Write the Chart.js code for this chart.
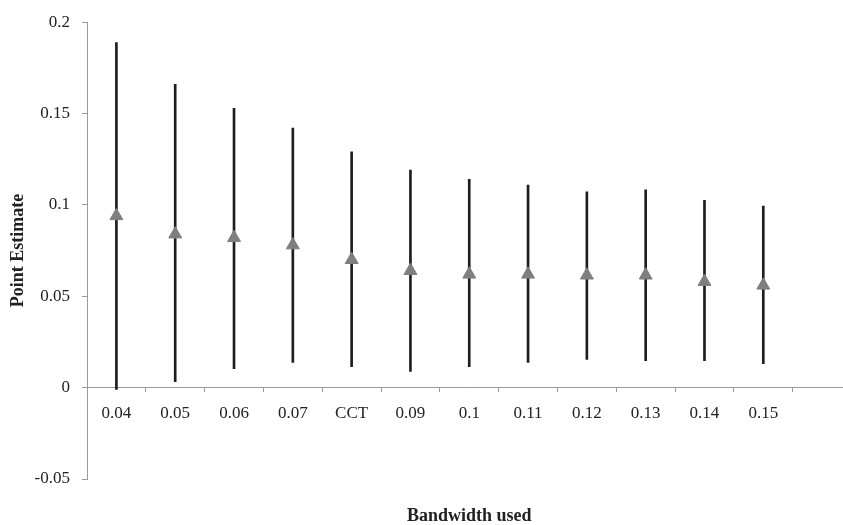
<!DOCTYPE html>
<html>
<head>
<meta charset="utf-8">
<script src="https://cdn.jsdelivr.net/npm/chart.js@4.4.0/dist/chart.umd.min.js"></script>
<style>
  html, body { margin: 0; padding: 0; background: #fff; overflow: hidden; }
  #wrap { width: 860px; height: 525px; position: relative; }
  canvas { display: block; }
</style>
</head>
<body>
<div id="wrap"><canvas id="c" width="860" height="525"></canvas></div>
<script>
// ---- data ----
const categories = ['0.04','0.05','0.06','0.07','CCT','0.09','0.1','0.11','0.12','0.13','0.14','0.15',''];
const pointEstimate = [0.094, 0.084, 0.082, 0.078, 0.070, 0.064, 0.062, 0.062, 0.0615, 0.0615, 0.058, 0.056, null];
const ciLow  = [-0.001, 0.0033, 0.0104, 0.0138, 0.0115, 0.0089, 0.0115, 0.0138, 0.0155, 0.0147, 0.0147, 0.0131, null];
const ciHigh = [0.1889, 0.166, 0.1529, 0.1421, 0.1291, 0.1191, 0.114, 0.1109, 0.1071, 0.1082, 0.1025, 0.0994, null];
const yTicks = [-0.05, 0, 0.05, 0.1, 0.15, 0.2];
const yTickLabels = ['-0.05', '0', '0.05', '0.1', '0.15', '0.2'];
const xTitle = 'Bandwidth used';
const yTitle = 'Point Estimate';

const ciRanges = ciLow.map((lo, i) => (lo === null ? null : [lo, ciHigh[i]]));

const FONT = "'Liberation Serif', 'Times New Roman', serif";
const AXIS = '#9a9a9a';
const TEXT = '#222';

new Chart(document.getElementById('c'), {
  type: 'bar',
  data: {
    labels: categories,
    datasets: [
      {
        type: 'line',
        label: 'Point estimate',
        data: pointEstimate,
        showLine: false,
        pointStyle: 'triangle',
        pointRadius: 7.5,
        pointBorderWidth: 1,
        pointBackgroundColor: '#7f7f7f',
        pointBorderColor: '#7f7f7f',
        order: 1,
        xAxisID: 'x',
        yAxisID: 'y'
      },
      {
        type: 'bar',
        label: 'Confidence interval',
        data: ciRanges,
        backgroundColor: '#1e1e1e',
        borderWidth: 0,
        barThickness: 2,
        order: 2,
        xAxisID: 'x',
        yAxisID: 'y'
      }
    ]
  },
  options: {
    responsive: false,
    animation: false,
    devicePixelRatio: 1,
    layout: { padding: { top: 20, right: 1, bottom: 0, left: 0 } },
    plugins: { legend: { display: false }, tooltip: { enabled: false }, title: { display: false } },
    scales: {
      x: {
        type: 'category',
        position: { y: 0 },
        offset: true,
        grid: { offset: true, drawOnChartArea: false, drawTicks: true, tickLength: 4, color: AXIS },
        border: { display: true, color: AXIS, width: 1 },
        ticks: { color: TEXT, font: { family: FONT, size: 17 }, padding: 12, maxRotation: 0, autoSkip: false }
      },
      x2: {
        type: 'category',
        position: 'bottom',
        offset: true,
        grid: { display: false, drawTicks: false },
        border: { display: false },
        ticks: { display: false },
        title: { display: true, text: xTitle, color: TEXT, font: { family: FONT, size: 18, weight: 'bold', lineHeight: 1 }, padding: { top: 28, bottom: 0 } }
      },
      y: {
        type: 'linear',
        position: 'left',
        min: -0.05,
        max: 0.2,
        afterBuildTicks: (s) => { s.ticks = yTicks.map(v => ({ value: v })); },
        afterFit: (s) => { s.width = 87; },
        grid: { drawOnChartArea: false, drawTicks: true, tickLength: 5, color: AXIS },
        border: { display: true, color: AXIS, width: 1 },
        ticks: {
          color: TEXT,
          font: { family: FONT, size: 17 },
          padding: 12,
          callback: (v, i) => yTickLabels[i]
        },
        title: { display: true, text: yTitle, color: TEXT, font: { family: FONT, size: 18, weight: 'bold', lineHeight: 1.2 }, padding: { top: 8, bottom: 4 } }
      }
    }
  }
});
</script>
</body>
</html>
